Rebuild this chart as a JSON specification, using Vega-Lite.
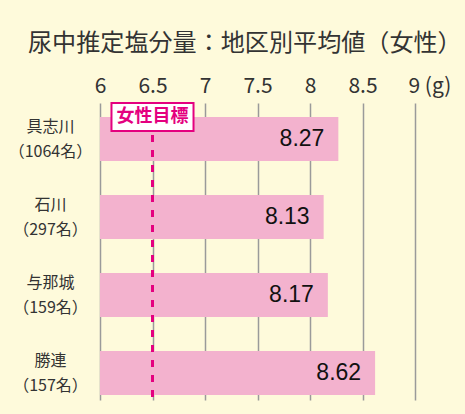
{
  "$schema": "https://vega.github.io/schema/vega-lite/v6.json",
  "width": 315,
  "height": 297,
  "autosize": {"type": "none"},
  "padding": {"left": 100, "top": 103, "right": 50, "bottom": 14},
  "background": "#FEFADB",
  "config": {
    "view": {"stroke": null},
    "font": "Noto Sans CJK JP"
  },
  "title": {
    "text": "尿中推定塩分量：地区別平均値（女性）",
    "anchor": "start",
    "frame": "group",
    "dx": -72,
    "offset": 19,
    "fontSize": 24.1,
    "fontWeight": "normal",
    "color": "#333333",
    "font": "Noto Sans CJK JP"
  },
  "datasets": {
    "areas": [
      {"region": "具志川|（1064名）", "value": 8.27},
      {"region": "石川|（297名）", "value": 8.13},
      {"region": "与那城|（159名）", "value": 8.17},
      {"region": "勝連|（157名）", "value": 8.62}
    ],
    "target": [
      {"region": "具志川|（1064名）", "target": 6.5, "label": "女性目標"}
    ]
  },
  "layer": [
    {
      "data": {"name": "areas"},
      "mark": {"type": "bar", "color": "#F3B2CE"},
      "encoding": {
        "y": {
          "field": "region",
          "type": "nominal",
          "sort": null,
          "scale": {"paddingInner": 0.436, "paddingOuter": 0.122, "align": 0.74},
          "axis": {
            "title": null,
            "domain": false,
            "ticks": false,
            "labelExpr": "split(datum.label, '|')",
            "labelAlign": "center",
            "labelBaseline": "middle",
            "labelPadding": 50,
            "labelOffset": -12,
            "labelFontSize": 16,
            "labelLineHeight": 25,
            "labelColor": "#333333",
            "labelFont": "Noto Sans CJK JP"
          }
        },
        "x": {
          "field": "value",
          "type": "quantitative",
          "scale": {"domain": [6, 9], "nice": false, "zero": false},
          "axis": {
            "orient": "top",
            "title": null,
            "values": [6, 6.5, 7, 7.5, 8, 8.5, 9],
            "domain": false,
            "ticks": false,
            "grid": true,
            "gridColor": "#9A9A9A",
            "gridWidth": 1.5,
            "labelPadding": 7,
            "labelFontSize": 21,
            "labelColor": "#333333",
            "labelFont": "Noto Sans CJK JP",
            "labelExpr": "datum.value == 9 ? '9 (g)' : toString(datum.value)",
            "labelAlign": {"condition": {"test": "datum.value == 9", "value": "left"}, "value": "center"},
            "labelOffset": {"condition": {"test": "datum.value == 9", "value": -7}, "value": 0},
            "labelFlush": false,
            "labelOverlap": false
          }
        },
        "x2": {"datum": 6}
      }
    },
    {
      "data": {"name": "areas"},
      "mark": {"type": "text", "align": "right", "baseline": "middle", "dx": -14, "fontSize": 23, "font": "Liberation Sans", "color": "#111111"},
      "encoding": {
        "y": {"field": "region", "type": "nominal", "sort": null},
        "x": {"field": "value", "type": "quantitative"},
        "text": {"field": "value", "type": "quantitative", "format": ".2f"}
      }
    },
    {
      "data": {"name": "target"},
      "mark": {"type": "rule", "color": "#E4007F", "strokeWidth": 3, "strokeDash": [7, 8], "strokeDashOffset": -2},
      "encoding": {
        "x": {"field": "target", "type": "quantitative"}
      }
    },
    {
      "data": {"name": "target"},
      "mark": {"type": "point", "shape": "M-2.93,-1H2.93V1H-2.93Z", "size": 784, "filled": true, "fill": "#FFFFFF", "stroke": "#E4007F", "strokeWidth": 2, "opacity": 1},
      "encoding": {
        "x": {"field": "target", "type": "quantitative"},
        "y": {"field": "region", "type": "nominal", "sort": null, "bandPosition": 0}
      }
    },
    {
      "data": {"name": "target"},
      "mark": {"type": "text", "baseline": "middle", "align": "center", "fontSize": 18, "fontWeight": "bold", "font": "Noto Sans CJK JP", "color": "#E4007F"},
      "encoding": {
        "x": {"field": "target", "type": "quantitative"},
        "y": {"field": "region", "type": "nominal", "sort": null, "bandPosition": 0},
        "text": {"field": "label"}
      }
    }
  ]
}
